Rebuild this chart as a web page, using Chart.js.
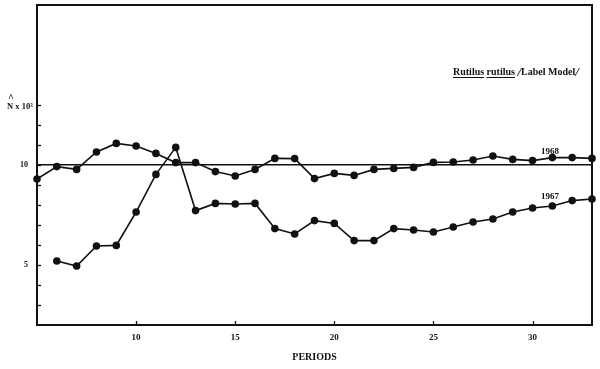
<!DOCTYPE html>
<html lang="en">
<head>
  <meta charset="UTF-8">
  <title>Rutilus rutilus – Label Model</title>
  <script src="https://cdn.jsdelivr.net/npm/chart.js"></script>
  <style>
    body { margin: 0; background: #fff; }
    canvas { display: block; }
  </style>
</head>
<body>
  <canvas id="chart" width="600" height="369"></canvas>

  <script>
    const periods = [5, 6, 7, 8, 9, 10, 11, 12, 13, 14, 15, 16, 17, 18, 19, 20, 21, 22, 23, 24, 25, 26, 27, 28, 29, 30, 31, 32, 33];
    const n1968 = [9.3, 9.92, 9.78, 10.65, 11.08, 10.95, 10.58, 10.12, 10.12, 9.67, 9.45, 9.78, 10.33, 10.32, 9.32, 9.58, 9.48, 9.78, 9.83, 9.88, 10.13, 10.15, 10.25, 10.45, 10.28, 10.22, 10.37, 10.37, 10.33];
    const n1967 = [null, 5.2, 4.95, 5.95, 5.98, 7.65, 9.53, 10.88, 7.72, 8.08, 8.05, 8.08, 6.82, 6.55, 7.22, 7.08, 6.22, 6.22, 6.82, 6.75, 6.65, 6.9, 7.15, 7.3, 7.65, 7.85, 7.95, 8.22, 8.3];
    const xTicksLabelled = [10, 15, 20, 25, 30];
    const yTicksLabelled = [5, 10];
    const yTickMarks = [3, 4, 5, 6, 7, 8, 9, 10, 11, 12, 13];
    const referenceLevel = 10;

    const ink = "#111";
    const serif = "'Liberation Serif', 'DejaVu Serif', serif";
    Chart.defaults.font.family = serif;
    Chart.defaults.color = ink;

    const toPoints = (ys) => periods.map((p, i) => ({ x: p, y: ys[i] }));

    // frame, inward tick marks and the text written on the plot
    const decorations = {
      id: "decorations",
      afterDraw(chart) {
        const { ctx, chartArea: a, scales: { x, y } } = chart;
        ctx.save();
        ctx.strokeStyle = ink;
        ctx.fillStyle = ink;

        ctx.lineWidth = 1.3;
        yTickMarks.forEach(v => {
          const py = Math.round(y.getPixelForValue(v)) + 0.5;
          ctx.beginPath(); ctx.moveTo(a.left, py); ctx.lineTo(a.left + 4, py); ctx.stroke();
        });
        xTicksLabelled.forEach(v => {
          const px = Math.round(x.getPixelForValue(v)) + 0.5;
          ctx.beginPath(); ctx.moveTo(px, a.bottom); ctx.lineTo(px, a.bottom - 4); ctx.stroke();
        });

        ctx.lineWidth = 2;
        ctx.strokeRect(a.left, a.top, a.right - a.left, a.bottom - a.top);

        // y axis title
        ctx.textBaseline = "alphabetic";
        ctx.textAlign = "left";
        ctx.font = "bold 10px " + serif;
        ctx.fillText("^", 8, 101);
        ctx.font = "bold 8.5px " + serif;
        ctx.fillText("N x 10³", 7, 109);

        // heading
        ctx.font = "bold 10px " + serif;
        let tx = 453;
        const by = 75;
        const parts = [["Rutilus", true], [" ", false], ["rutilus", true], [" ", false]];
        parts.forEach(([t, u]) => {
          ctx.fillText(t, tx, by);
          const w = ctx.measureText(t).width;
          if (u) {
            ctx.lineWidth = 1;
            ctx.beginPath(); ctx.moveTo(tx, by + 2.5); ctx.lineTo(tx + w, by + 2.5); ctx.stroke();
          }
          tx += w;
        });
        ctx.font = "italic bold 13px " + serif;
        ctx.fillText("/", tx, by + 1);
        tx += ctx.measureText("/").width;
        ctx.font = "bold 10px " + serif;
        ctx.fillText("Label Model", tx, by);
        tx += ctx.measureText("Label Model").width;
        ctx.font = "italic bold 13px " + serif;
        ctx.fillText("/", tx, by + 1);

        // series labels
        ctx.font = "bold 9px " + serif;
        ctx.textAlign = "center";
        ctx.fillText("1968", 550, 154);
        ctx.fillText("1967", 550, 199);
        ctx.restore();
      }
    };

    const series = (label, ys) => ({
      label,
      data: toPoints(ys),
      borderColor: ink,
      backgroundColor: ink,
      borderWidth: 1.6,
      pointRadius: 3,
      pointHoverRadius: 3,
      tension: 0,
      clip: 6,
      spanGaps: false
    });

    new Chart(document.getElementById("chart"), {
      type: "line",
      data: { datasets: [series("1968", n1968), series("1967", n1967)] },
      options: {
        responsive: false,
        animation: false,
        layout: { padding: { top: 5, right: 8, left: 0, bottom: 0 } },
        plugins: { legend: { display: false }, tooltip: { enabled: false } },
        scales: {
          x: {
            type: "linear",
            min: 5,
            max: 33,
            afterFit: s => { s.height = 44; },
            grid: { display: false, drawTicks: false },
            border: { display: false },
            ticks: {
              stepSize: 1,
              autoSkip: false,
              maxRotation: 0,
              padding: 7,
              font: { size: 9, weight: "bold" },
              callback: v => xTicksLabelled.includes(v) ? String(v) : ""
            },
            title: {
              display: true,
              text: "PERIODS",
              font: { size: 10, weight: "bold" },
              padding: { top: 0, bottom: 6 }
            }
          },
          y: {
            min: 2,
            max: 18,
            afterFit: s => { s.width = 37; s.paddingTop = 0; s.paddingBottom = 0; },
            grid: {
              drawTicks: false,
              lineWidth: 1.5,
              color: c => c.tick && c.tick.value === referenceLevel ? ink : "transparent"
            },
            border: { display: false },
            ticks: {
              stepSize: 1,
              autoSkip: false,
              padding: 9,
              font: { size: 8, weight: "bold" },
              callback: v => yTicksLabelled.includes(v) ? String(v) : ""
            }
          }
        }
      },
      plugins: [decorations]
    });
  </script>
</body>
</html>
